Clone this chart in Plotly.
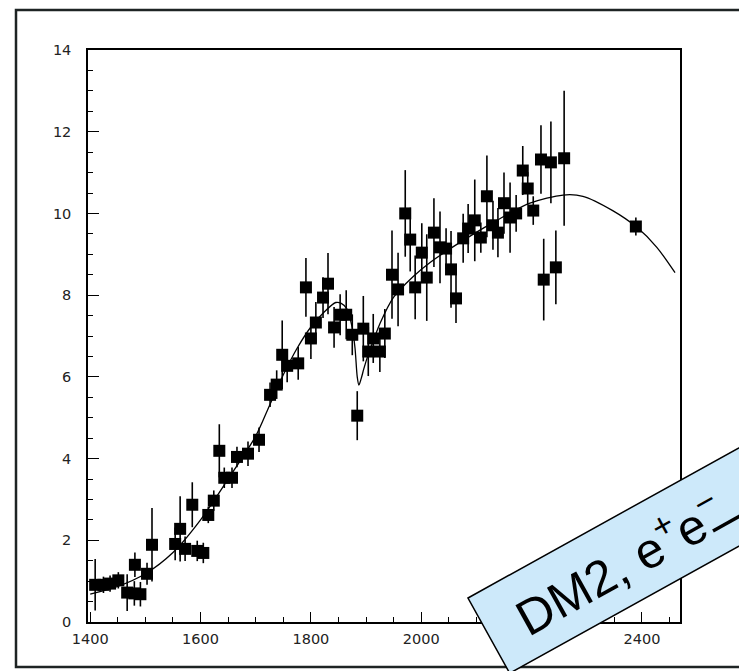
import math
import plotly.graph_objects as go

# ---------------- data ----------------
energy = [1409, 1424, 1436, 1451, 1467, 1480, 1491, 1481, 1503, 1512,
          1554, 1563, 1572, 1585, 1594, 1605, 1614, 1624, 1634, 1643,
          1657, 1666, 1686, 1706, 1726, 1738, 1748, 1757, 1777, 1791,
          1800, 1809, 1822, 1831, 1842, 1853, 1864, 1875, 1884, 1895,
          1904, 1913, 1925, 1934, 1947, 1958, 1971, 1980, 1989, 2001,
          2010, 2023, 2034, 2045, 2054, 2063, 2076, 2085, 2097, 2108,
          2119, 2130, 2139, 2150, 2161, 2172, 2184, 2193, 2203, 2217,
          2222, 2235, 2244, 2259, 2389]
cross_section = [0.91, 0.91, 0.94, 1.02, 0.72, 0.70, 0.68, 1.40, 1.18, 1.89,
                 1.91, 2.28, 1.79, 2.87, 1.74, 1.69, 2.62, 2.97, 4.19, 3.53,
                 3.53, 4.04, 4.12, 4.46, 5.56, 5.81, 6.54, 6.27, 6.33, 8.19,
                 6.94, 7.33, 7.94, 8.28, 7.21, 7.52, 7.52, 7.03, 5.05, 7.18,
                 6.62, 6.94, 6.62, 7.06, 8.50, 8.14, 10.0, 9.36, 8.19, 9.04,
                 8.43, 9.53, 9.17, 9.14, 8.63, 7.92, 9.39, 9.63, 9.83, 9.41,
                 10.42, 9.71, 9.53, 10.25, 9.90, 10.0, 11.05, 10.61, 10.07, 11.32,
                 8.38, 11.25, 8.68, 11.35, 9.68]
error = [0.63, 0.2, 0.2, 0.2, 0.45, 0.3, 0.3, 0.3, 0.27, 0.9,
         0.4, 0.8, 0.3, 0.55, 0.25, 0.25, 0.2, 0.25, 0.65, 0.25,
         0.25, 0.25, 0.3, 0.3, 0.3, 0.35, 0.84, 0.4, 0.4, 0.72,
         0.5, 0.5, 0.5, 0.75, 0.5, 0.5, 0.6, 0.5, 0.6, 0.8,
         0.6, 0.6, 0.5, 0.6, 1.08, 0.9, 1.06, 0.78, 0.78, 0.72,
         1.06, 0.84, 0.88, 0.5, 0.94, 0.6, 0.6, 0.6, 1.0, 0.37,
         1.0, 0.6, 0.6, 0.75, 0.86, 0.45, 0.6, 0.4, 0.35, 0.84,
         1.0, 1.0, 0.9, 1.65, 0.22]

fit_energy = [1400, 1450, 1500, 1550, 1600, 1650, 1700, 1725, 1750, 1775,
              1800, 1825, 1845, 1855, 1865, 1875, 1880, 1884, 1887, 1891,
              1896, 1904, 1915, 1925, 1950, 1985, 2016, 2076, 2137, 2197,
              2257, 2293, 2347, 2391, 2427, 2460]
fit_value = [0.68, 0.87, 1.18, 1.7, 2.5, 3.5, 4.55, 5.3, 6.05, 6.7,
             7.22, 7.6, 7.82, 7.8, 7.67, 7.2, 6.7, 6.0, 5.8, 5.95,
             6.2, 6.55, 6.95, 7.3, 7.95, 8.45, 8.8, 9.34, 9.83, 10.25,
             10.45, 10.42, 10.07, 9.66, 9.17, 8.55]

x_tick_values = [1400, 1600, 1800, 2000, 2200, 2400]
x_tick_labels = ["1400", "1600", "1800", "2000", "2200", "2400"]
y_tick_values = [0, 2, 4, 6, 8, 10, 12, 14]
y_tick_labels = ["0", "2", "4", "6", "8", "10", "12", "14"]
banner_text = "DM2, e<sup>+</sup>e<sup>−</sup>"

# ---------------- layout geometry ----------------
W, H = 739, 671
ML, MR, MT, MB = 88, 59, 50, 49
PW, PH = W - ML - MR, H - MT - MB


def px(x):
    return (x - ML) / PW


def py(y):
    return (H - MB - y) / PH


fig = go.Figure()

fig.add_trace(go.Scatter(
    x=fit_energy, y=fit_value, mode="lines",
    line=dict(color="black", width=1.3, shape="spline", smoothing=0.8),
    hoverinfo="skip", showlegend=False))

fig.add_trace(go.Scatter(
    x=energy, y=cross_section, mode="markers",
    marker=dict(symbol="square", size=12, color="black"),
    error_y=dict(type="data", array=error, visible=True,
                 color="black", thickness=1.6, width=0),
    showlegend=False))

tickfont = dict(family="DejaVu Sans", size=14.5, color="#222")

fig.update_xaxes(
    range=[1396, 2469], tickvals=x_tick_values, ticktext=x_tick_labels,
    ticks="inside", ticklen=10, tickwidth=1.3, tickcolor="black",
    minor=dict(dtick=50, tick0=1400, ticks="inside", ticklen=5,
               tickwidth=1, tickcolor="black"),
    showline=True, linecolor="black", linewidth=1.5, mirror=True,
    showgrid=False, zeroline=False, tickfont=tickfont,
    ticklabelstandoff=3)
fig.update_yaxes(
    range=[0, 14], tickvals=y_tick_values, ticktext=y_tick_labels,
    ticks="inside", ticklen=11, tickwidth=1.3, tickcolor="black",
    minor=dict(dtick=0.5, tick0=0, ticks="inside", ticklen=5,
               tickwidth=1, tickcolor="black"),
    showline=True, linecolor="black", linewidth=1.5, mirror=True,
    showgrid=False, zeroline=False, tickfont=tickfont,
    ticklabelstandoff=12)

# outer frame
shapes = [dict(type="rect", xref="paper", yref="paper",
               x0=px(16), x1=px(770), y0=py(667), y1=py(10),
               line=dict(color="#1e2424", width=2.5), layer="above")]

# rotated banner
ang = math.radians(29)
ux, uy = math.cos(ang), -math.sin(ang)
nx, ny = math.sin(ang), math.cos(ang)
ax, ay = 468, 598
bw, bl = 86, 520
c1 = (ax, ay)
c2 = (ax + bl * ux, ay + bl * uy)
c3 = (c2[0] + bw * nx, c2[1] + bw * ny)
c4 = (ax + bw * nx, ay + bw * ny)
path = "M {} {} L {} {} L {} {} L {} {} Z".format(
    *[v for c in (c1, c2, c3, c4) for v in (px(c[0]), py(c[1]))])
shapes.append(dict(type="path", xref="paper", yref="paper", path=path,
                   fillcolor="#cde9fa", line=dict(color="black", width=1.5),
                   layer="above"))

# arrow shaft continuing past the right edge
s0 = (713, 531)
s1 = (s0[0] + 60 * ux, s0[1] + 60 * uy)
shapes.append(dict(type="line", xref="paper", yref="paper",
                   x0=px(s0[0]), y0=py(s0[1]), x1=px(s1[0]), y1=py(s1[1]),
                   line=dict(color="black", width=3.5), layer="above"))

center_offset = 149
mx, my = ax + bw / 2 * nx, ay + bw / 2 * ny
cx = mx + center_offset * ux
cy = my + center_offset * uy

fig.add_annotation(
    xref="paper", yref="paper", x=px(cx), y=py(cy),
    text=banner_text, textangle=-29, showarrow=False,
    xanchor="center", yanchor="middle",
    font=dict(family="Liberation Sans, Arial", size=50, color="black"))

fig.update_layout(
    width=W, height=H, margin=dict(l=ML, r=MR, t=MT, b=MB),
    paper_bgcolor="white", plot_bgcolor="white", shapes=shapes,
    showlegend=False)

fig.write_html("out.html")
